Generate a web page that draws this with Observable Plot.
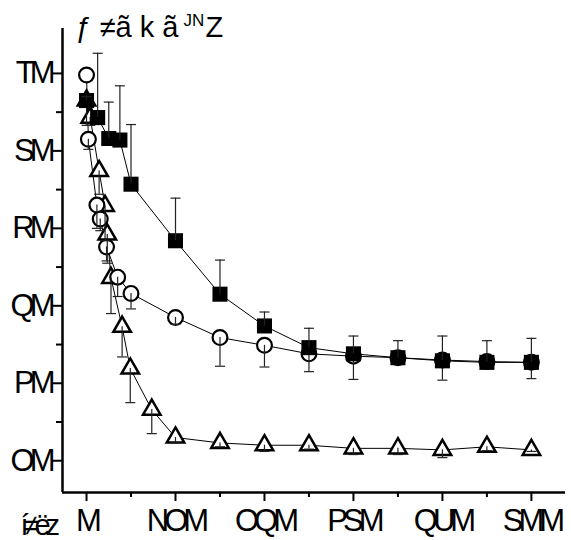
<!DOCTYPE html>
<html><head><meta charset="utf-8">
<script src="https://cdn.jsdelivr.net/npm/d3@7"></script>
<script src="https://cdn.jsdelivr.net/npm/@observablehq/plot@0.6"></script>
<style>
body{margin:0;background:#fff}
svg text{letter-spacing:-5px}
svg text.ttl{letter-spacing:0px}
</style>
</head><body><div id="chart"></div>
<script>
// ---- data ----
const squareT   = [0, 15, 30, 45, 60, 120, 180, 240, 300, 360, 420, 480, 540, 600];
const squareV   = [66.5, 64.3, 61.6, 61.4, 55.7, 48.4, 41.5, 37.4, 34.6, 33.8, 33.3, 32.9, 32.7, 32.7];
const squareErr = [0.5, 8.3, 4.7, 7.0, 7.7, 5.5, 4.4, 1.8, 2.5, 2.3, 2.2, 3.2, 2.8, 3.1];

const circleT   = [0, 2.5, 14, 18.5, 27, 42, 60, 120, 180, 240, 300, 360, 420, 480, 540, 600];
const circleV   = [69.8, 61.5, 53.0, 51.2, 47.6, 43.7, 41.6, 38.5, 35.9, 34.9, 33.8, 33.5, 33.3, 33.0, 32.8, 32.7];
const circleErr = [0, 1.3, 3.0, 1.5, 1.8, 2.5, 2.0, 0.9, 3.7, 2.8, 2.3, 3.0, 0.8, 2.6, 0.8, 2.1];

const triT   = [0, 5, 17, 25, 28, 33, 48, 59, 88, 120, 180, 240, 300, 360, 420, 480, 540, 600];
const triV   = [66.5, 64.3, 57.4, 52.9, 49.2, 43.6, 37.3, 31.9, 26.6, 23.0, 22.3, 22.0, 22.0, 21.6, 21.6, 21.4, 21.8, 21.4];
const triErr = [3.2, 1.0, 3.0, 4.5, 3.7, 4.6, 3.9, 4.4, 3.1, 0.7, 0.5, 0.8, 0.5, 0.8, 0.8, 1.0, 0.5, 0.2];

const yTicks = [20, 30, 40, 50, 60, 70];
const yTickLabels = ["OM", "PM", "QM", "RM", "SM", "TM"];
const yMinor = [25, 35, 45, 55, 65];
const xTicks = [0, 120, 240, 360, 480, 600];
const xTickLabels = ["M", "NOM", "OQM", "PSM", "QUM", "SMM"];
const xMinor = [60, 180, 300, 420, 540];

const titleText = ["ƒ ≠ã k ã"];
const titleSup = ["JN"];
const titleEnd = ["Z"];
const xAxisText = ["í≠ëz"];

const xDomain = [-32.4, 646];
const yDomain = [15.9, 75.8];

// ---- tables ----
const mk = (T, V, E) => T.map((t, i) => ({t, v: V[i], e: E[i]}));
const squares = mk(squareT, squareV, squareErr);
const circles = mk(circleT, circleV, circleErr);
const tris = mk(triT, triV, triErr);

const cap = {draw(ctx, size) { const w = Math.sqrt(size / Math.PI); ctx.moveTo(-w, 0); ctx.lineTo(w, 0); }};

const errMarks = (data, dir) => [
  Plot.ruleX(data.filter(d => d.e > 0), {x: "t", y1: "v", y2: d => d.v + dir * d.e, stroke: "#222", strokeWidth: 1.2}),
  Plot.dot(data.filter(d => d.e > 0), {x: "t", y: d => d.v + dir * d.e, symbol: cap, r: 5, fill: "none", stroke: "#222", strokeWidth: 1.2})
];

const fs = 31;
const chart = Plot.plot({
  width: 571, height: 540,
  marginLeft: 62, marginRight: 6, marginTop: 28, marginBottom: 48,
  x: {domain: xDomain},
  y: {domain: yDomain},
  style: {fontFamily: "Liberation Sans", background: "white", overflow: "visible", color: "black"},
  marks: [
    Plot.text(titleText, {frameAnchor: "top-left", text: d => d, dx: 13, dy: 8, lineAnchor: "bottom", fontSize: 29, fill: "black"}),
    Plot.text(titleSup, {frameAnchor: "top-left", text: d => d, dx: 121, dy: -3, lineAnchor: "bottom", fontSize: 17, fill: "black"}),
    Plot.text(titleEnd, {frameAnchor: "top-left", text: d => d, dx: 143, dy: 8, lineAnchor: "bottom", fontSize: 29, fill: "black"}),
    Plot.text(xAxisText, {frameAnchor: "bottom-left", text: d => d, dx: -42, dy: 42, lineAnchor: "bottom", fontSize: 29, fill: "black"}),
    Plot.ruleX([xDomain[0]], {stroke: "black", strokeWidth: 2.5}),
    Plot.ruleY([yDomain[0]], {stroke: "black", strokeWidth: 2.5}),
    Plot.axisY({ticks: yTicks, tickFormat: d => yTickLabels[yTicks.indexOf(d)], tickSize: 11, tickPadding: 1, fontSize: fs, strokeWidth: 2, label: null}),
    Plot.axisY({ticks: yMinor, tickFormat: () => "", tickSize: 6, strokeWidth: 2, label: null}),
    Plot.axisX({ticks: xTicks, tickFormat: d => xTickLabels[xTicks.indexOf(d)], tickSize: 9, tickPadding: 7, fontSize: fs, strokeWidth: 2, label: null}),
    Plot.axisX({ticks: xMinor, tickFormat: () => "", tickSize: 5, strokeWidth: 2, label: null}),
    Plot.line(tris, {x: "t", y: "v", stroke: "black", strokeWidth: 1}),
    Plot.line(circles, {x: "t", y: "v", stroke: "black", strokeWidth: 1}),
    Plot.line(squares, {x: "t", y: "v", stroke: "black", strokeWidth: 1}),
    Plot.dot(tris, {x: "t", y: "v", symbol: "triangle", r: 6.5, fill: "white", stroke: "black", strokeWidth: 2.5}),
    Plot.dot(circles, {x: "t", y: "v", symbol: "circle", r: 7.4, fill: "white", stroke: "black", strokeWidth: 2.2}),
    ...errMarks(tris, -1),
    ...errMarks(circles, -1),
    Plot.dot(squares, {x: "t", y: "v", symbol: "square", r: 8.5, fill: "black", stroke: "none"}),
    ...errMarks(squares, 1)
  ]
});
const svg = d3.select(chart);
svg.selectAll('g[aria-label="text"]').filter((d, i) => i < 3).selectAll("text").classed("ttl", true);
document.getElementById("chart").appendChild(chart);
</script></body></html>
